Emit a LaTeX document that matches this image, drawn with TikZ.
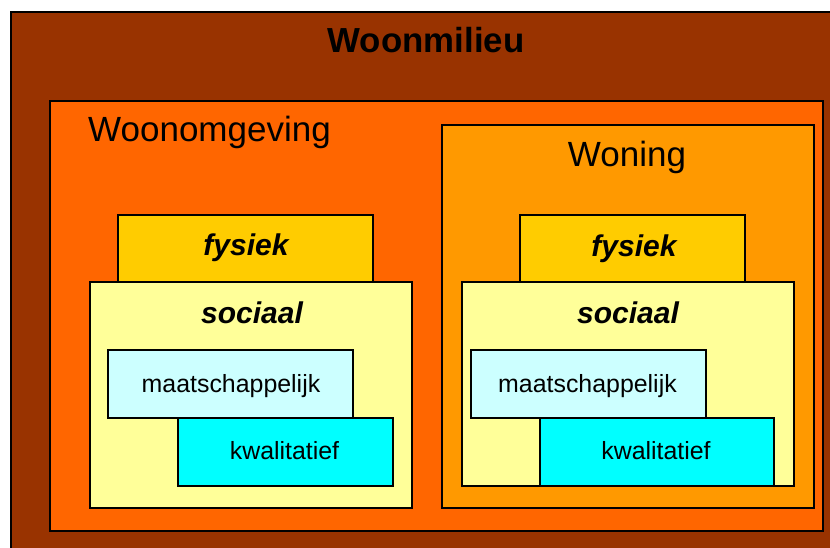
\documentclass[tikz,border=0pt]{standalone}
\usepackage{fontspec}
\setmainfont{Liberation Sans}
\definecolor{milieuC}{HTML}{993300}
\definecolor{omgevC}{HTML}{FF6600}
\definecolor{woningC}{HTML}{FF9900}
\definecolor{fysC}{HTML}{FFCC00}
\definecolor{socC}{HTML}{FFFF99}
\definecolor{maatC}{HTML}{CCFFFF}
\definecolor{kwalC}{HTML}{00FFFF}
\begin{document}
\begin{tikzpicture}[x=1pt,y=-1pt,
  box/.style={draw=black, line width=1.6pt, rectangle, inner sep=0pt, anchor=north west},
  title/.style={anchor=base, inner sep=0pt, font=\fontsize{35}{40}\selectfont},
  boldtitle/.style={anchor=base, inner sep=0pt, font=\fontsize{34.8}{40}\selectfont\bfseries},
  layer/.style={anchor=base, inner sep=0pt, font=\fontsize{30}{34}\selectfont\bfseries\itshape},
  sub/.style={anchor=base, inner sep=0pt, font=\fontsize{24.9}{28}\selectfont}]
\useasboundingbox (0,0) rectangle (830,548);
\fill[white] (0,0) rectangle (830,548);
\clip (0,0) rectangle (830,548);
% outer
\node[box, fill=milieuC, minimum width=840pt, minimum height=560pt] (milieu) at (10,11) {};
\node[boldtitle] (milieuT) at (426,53) {Woonmilieu};
% woonomgeving
\node[box, fill=omgevC, minimum width=773pt, minimum height=430pt] (omgev) at (49,100) {};
\node[title] (omgevT) at (209.5,142) {Woonomgeving};
% woning
\node[box, fill=woningC, minimum width=372pt, minimum height=383pt] (woning) at (441,124) {};
\node[title] (woningT) at (627,167) {Woning};
% left stack
\node[box, fill=fysC, minimum width=255pt, minimum height=67pt] (fysL) at (117,214) {};
\node[layer] (fysLT) at (246,255) {fysiek};
\node[box, fill=socC, minimum width=322pt, minimum height=226pt] (socL) at (89,281) {};
\node[layer] (socLT) at (252,323) {sociaal};
\node[box, fill=maatC, minimum width=245pt, minimum height=68pt] (maatL) at (107,349) {};
\node[sub] (maatLT) at (231,392) {maatschappelijk};
\node[box, fill=kwalC, minimum width=215pt, minimum height=68pt] (kwalL) at (177,417) {};
\node[sub] (kwalLT) at (284.5,459) {kwalitatief};
% right stack
\node[box, fill=fysC, minimum width=225pt, minimum height=67pt] (fysR) at (519,214) {};
\node[layer] (fysRT) at (634,256) {fysiek};
\node[box, fill=socC, minimum width=332pt, minimum height=204pt] (socR) at (461,281) {};
\node[layer] (socRT) at (628,323) {sociaal};
\node[box, fill=maatC, minimum width=235pt, minimum height=68pt] (maatR) at (470,349) {};
\node[sub] (maatRT) at (587.5,392) {maatschappelijk};
\node[box, fill=kwalC, minimum width=234pt, minimum height=68pt] (kwalR) at (539,417) {};
\node[sub] (kwalRT) at (656,459) {kwalitatief};
\end{tikzpicture}
\end{document}
